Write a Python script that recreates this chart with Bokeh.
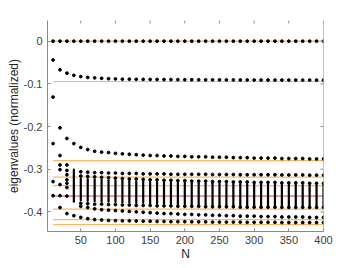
import numpy as np
from bokeh.plotting import figure
from bokeh.models import FixedTicker, ColumnDataSource, Range1d, Span
from bokeh.embed import file_html
from bokeh.resources import INLINE

# ---------------- data ----------------
N = list(range(10, 401, 10))  # 10, 20, ..., 400

row_zero = [0.0, 0.0, 0.0, 0.0, 0.0, 0.0, 0.0, 0.0, 0.0, 0.0,
            0.0, 0.0, 0.0, 0.0, 0.0, 0.0, 0.0, 0.0, 0.0, 0.0,
            0.0, 0.0, 0.0, 0.0, 0.0, 0.0, 0.0, 0.0, 0.0, 0.0,
            0.0, 0.0, 0.0, 0.0, 0.0, 0.0, 0.0, 0.0, 0.0, 0.0]
row_b = [-0.044, -0.067, -0.075, -0.080, -0.083, -0.085, -0.086, -0.087, -0.088, -0.0885,
         -0.089, -0.089, -0.0893, -0.0895, -0.0897, -0.0898, -0.090, -0.090, -0.0902, -0.0903,
         -0.0904, -0.0905, -0.0906, -0.0906, -0.0907, -0.0908, -0.0908, -0.0909, -0.0909, -0.091,
         -0.091, -0.091, -0.0911, -0.0911, -0.0911, -0.0912, -0.0912, -0.0912, -0.0913, -0.0913]
row_c = [-0.131, -0.203, -0.228, -0.240, -0.249, -0.254, -0.258, -0.260, -0.261, -0.263,
         -0.264, -0.265, -0.266, -0.267, -0.268, -0.268, -0.269, -0.269, -0.270, -0.270,
         -0.271, -0.271, -0.271, -0.272, -0.272, -0.272, -0.273, -0.273, -0.273, -0.274,
         -0.274, -0.274, -0.274, -0.275, -0.275, -0.275, -0.275, -0.276, -0.276, -0.276]
row_d = [-0.306, -0.307, -0.308, -0.308, -0.309, -0.309, -0.310, -0.310, -0.310, -0.311,
         -0.311, -0.311, -0.311, -0.312, -0.312, -0.312, -0.312, -0.312, -0.312, -0.3125,
         -0.3125, -0.3125, -0.3125, -0.313, -0.313, -0.313, -0.313, -0.313, -0.313, -0.3135,
         -0.3135, -0.3135, -0.3135, -0.314, -0.314, -0.314]            # from N=50
row_e = [-0.316, -0.317, -0.318, -0.319, -0.320, -0.321, -0.322, -0.323, -0.323, -0.324,
         -0.325, -0.325, -0.326, -0.326, -0.327, -0.327, -0.328, -0.328, -0.328, -0.329,
         -0.329, -0.329, -0.330, -0.330, -0.330, -0.331, -0.331, -0.331, -0.331, -0.332,
         -0.332, -0.332, -0.332, -0.333, -0.333, -0.333]               # from N=50
band_top = [-0.301, -0.322, -0.323, -0.324, -0.325, -0.326, -0.327, -0.327, -0.328, -0.329,
            -0.329, -0.330, -0.330, -0.331, -0.331, -0.332, -0.332, -0.332, -0.333, -0.333,
            -0.333, -0.334, -0.334, -0.334, -0.335, -0.335, -0.335, -0.335, -0.336, -0.336,
            -0.336, -0.336, -0.336, -0.337, -0.337, -0.337, -0.337]    # from N=40
band_bottom = [-0.376, -0.373, -0.374, -0.375, -0.376, -0.376, -0.377, -0.378, -0.378, -0.379,
               -0.379, -0.380, -0.380, -0.381, -0.381, -0.382, -0.382, -0.383, -0.383, -0.383,
               -0.384, -0.384, -0.384, -0.385, -0.385, -0.385, -0.385, -0.386, -0.386, -0.386,
               -0.386, -0.386, -0.387, -0.387, -0.387, -0.387, -0.387]  # from N=40
row_f = [-0.380, -0.381, -0.382, -0.382, -0.383, -0.383, -0.384, -0.384, -0.385, -0.385,
         -0.385, -0.386, -0.386, -0.386, -0.387, -0.387, -0.387, -0.387, -0.388, -0.388,
         -0.388, -0.388, -0.388, -0.389, -0.389, -0.389, -0.389, -0.389, -0.389, -0.3895,
         -0.3895, -0.3895, -0.3895, -0.3895, -0.3895, -0.3895]         # from N=50
row_g = [-0.387, -0.390, -0.393, -0.395, -0.396, -0.397, -0.398, -0.399, -0.400, -0.401,
         -0.402, -0.403, -0.404, -0.404, -0.405, -0.406, -0.406, -0.407, -0.407, -0.408,
         -0.408, -0.409, -0.409, -0.410, -0.410, -0.410, -0.411, -0.411, -0.411, -0.412,
         -0.412, -0.412, -0.412, -0.413, -0.413, -0.413]               # from N=50
row_h = [-0.409, -0.413, -0.416, -0.418, -0.419, -0.420, -0.4205, -0.421, -0.421, -0.4215,
         -0.422, -0.422, -0.4225, -0.4225, -0.423, -0.423, -0.423, -0.4235, -0.4235, -0.4235,
         -0.424, -0.424, -0.424, -0.424, -0.424, -0.4245, -0.4245, -0.4245, -0.4245, -0.4245,
         -0.425, -0.425, -0.425, -0.425, -0.425, -0.425, -0.425]       # from N=40

# scattered eigenvalues for small N
early_N = [10, 10, 10,
           20, 20, 20, 20, 20, 20,
           30, 30, 30, 30, 30, 30, 30, 30]
early_v = [-0.240, -0.329, -0.362,
           -0.268, -0.290, -0.301, -0.336, -0.362, -0.390,
           -0.290, -0.303, -0.313, -0.325, -0.333, -0.343, -0.363, -0.404]

# asymptotic (N -> infinity) levels
asym_orange = [0.0, -0.0945, -0.280, -0.3185, -0.3387, -0.3934, -0.418, -0.430]
asym_red = [-0.363]

x_ticks = [50, 100, 150, 200, 250, 300, 350, 400]
y_ticks = [0.0, -0.1, -0.2, -0.3, -0.4]
y_tick_labels = ["0", "-0.1", "-0.2", "-0.3", "-0.4"]

X_MIN, X_MAX = 2, 400
Y_MIN, Y_MAX = -0.446, 0.0485

# ---------------- build sources ----------------
def tail(vals):
    return N[len(N) - len(vals):]

px, py = [], []
for vals in (row_zero, row_b, row_c, row_d, row_e, row_f, row_g, row_h):
    px += tail(vals)
    py += vals
px += early_N
py += early_v
dots = ColumnDataSource(dict(x=px, y=py))
band = ColumnDataSource(dict(x=tail(band_top), top=band_top, bottom=band_bottom))

# ---------------- figure ----------------
FONT = "Liberation Sans"
AX = "#8a8a8a"
TXT = "#404040"

p = figure(width=345, height=268, output_backend="svg", toolbar_location=None,
           x_range=Range1d(X_MIN, X_MAX), y_range=Range1d(Y_MIN, Y_MAX),
           min_border_left=47, min_border_right=22, min_border_top=20, min_border_bottom=37)
p.background_fill_color = "white"
p.border_fill_color = "white"
p.outline_line_color = None
p.grid.visible = False

# reference levels
p.segment(x0=[N[0]] * len(asym_orange), x1=[N[-1]] * len(asym_orange),
          y0=asym_orange, y1=asym_orange, line_color="#F9B865", line_width=1.2)
p.segment(x0=[N[0]], x1=[N[-1]], y0=asym_red, y1=asym_red,
          line_color="#C9404A", line_width=1.0)

# dense eigenvalue band
p.segment(x0="x", x1="x", y0="top", y1="bottom", source=band,
          line_color="black", line_width=2.2, line_cap="round")
# individual eigenvalues
p.scatter("x", "y", source=dots, size=2.8, color="black", marker="circle")

# right border line and inward ticks on top / right (MATLAB box)
p.add_layout(Span(location=X_MAX, dimension="height", line_color=AX, line_width=1))
p.ray(x=x_ticks, y=[Y_MAX] * len(x_ticks), length=3, length_units="screen",
      angle=-np.pi / 2, line_color=AX, line_width=1)
p.ray(x=[X_MAX] * len(y_ticks), y=y_ticks, length=3, length_units="screen",
      angle=np.pi, line_color=AX, line_width=1)

def style(ax):
    ax.axis_line_color = AX
    ax.major_tick_line_color = AX
    ax.major_tick_in = 3
    ax.major_tick_out = 0
    ax.minor_tick_line_color = None
    ax.major_label_text_font = FONT
    ax.major_label_text_font_size = "11px"
    ax.major_label_text_color = TXT
    ax.axis_label_text_font = FONT
    ax.axis_label_text_font_size = "12px"
    ax.axis_label_text_font_style = "normal"
    ax.axis_label_text_color = "#262626"

xb = p.xaxis[0]
style(xb)
xb.ticker = FixedTicker(ticks=x_ticks)
xb.major_label_standoff = 4
xb.axis_label = "N"
xb.axis_label_standoff = 0

yl = p.yaxis[0]
style(yl)
yl.ticker = FixedTicker(ticks=y_ticks)
yl.major_label_overrides = {t: s for t, s in zip(y_ticks, y_tick_labels)}
yl.major_label_standoff = 5
yl.axis_label = "eigenvalues (normalized)"
yl.axis_label_standoff = 0

open("out.html", "w").write(file_html(p, INLINE))
